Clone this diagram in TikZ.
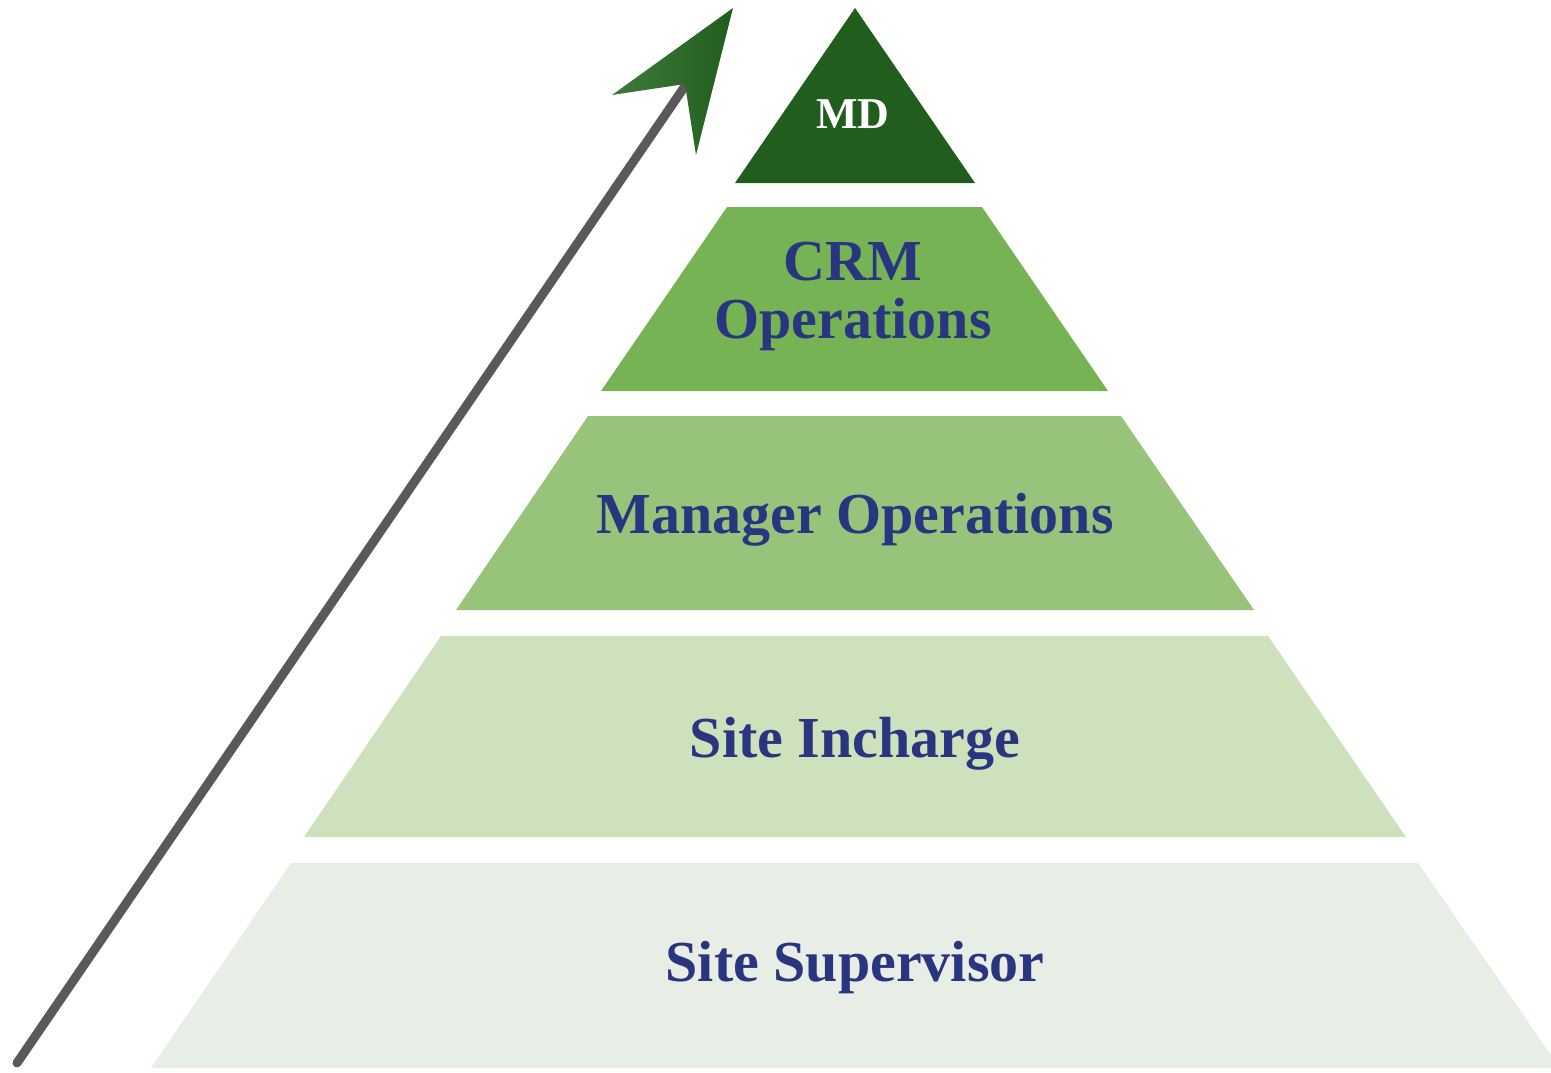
\documentclass[tikz,border=0pt]{standalone}
\usepackage{fontspec}
\setmainfont{Liberation Serif}
\definecolor{mdgreen}{RGB}{33,94,30}
\definecolor{crmgreen}{RGB}{117,179,85}
\definecolor{mgrgreen}{RGB}{152,195,123}
\definecolor{incgreen}{RGB}{206,225,189}
\definecolor{supgreen}{RGB}{232,237,229}
\definecolor{navy}{RGB}{42,53,128}
\definecolor{arrowgray}{RGB}{89,89,89}
\definecolor{headlight}{RGB}{62,122,58}
\begin{document}
\begin{tikzpicture}[x=1pt,y=-1pt,
  lvl/.style={font=\fontsize{58}{58}\selectfont\bfseries, text=navy, align=center}]
\useasboundingbox (0,0) rectangle (1551,1073);
\clip (0,0) rectangle (1551,1073);
% tiers
\fill[mdgreen] (855,8) -- (975,183) -- (735,183) -- cycle;
\fill[crmgreen] (727,207) -- (982,207) -- (1108,391) -- (601,391) -- cycle;
\fill[mgrgreen] (588,416) -- (1121,416) -- (1254,610) -- (456,610) -- cycle;
\fill[incgreen] (441,636) -- (1268,636) -- (1406,837) -- (304,837) -- cycle;
\fill[supgreen] (291,863) -- (1418,863) -- (1560,1068) -- (151,1068) -- cycle;
% labels
\node[font=\fontsize{44}{44}\selectfont\bfseries, text=white] (md) at (853,114) {MD};
\node[lvl] (crm) at (853,296) {CRM\\Operations};
\node[lvl] (mgr) at (855,520) {Manager Operations};
\node[lvl] (inc) at (855,744) {Site Incharge};
\node[lvl] (sup) at (855,968) {Site Supervisor};
% arrow
\coordinate (tail) at (17,1063);
\coordinate (notch) at (685,86);
\draw[arrowgray, line width=9pt, line cap=round] (tail) -- (notch);
\shade[left color=headlight, right color=mdgreen, shading angle=90]
  (733,8) -- (696,155) -- (685,84) -- (612,95) -- cycle;
\end{tikzpicture}
\end{document}
